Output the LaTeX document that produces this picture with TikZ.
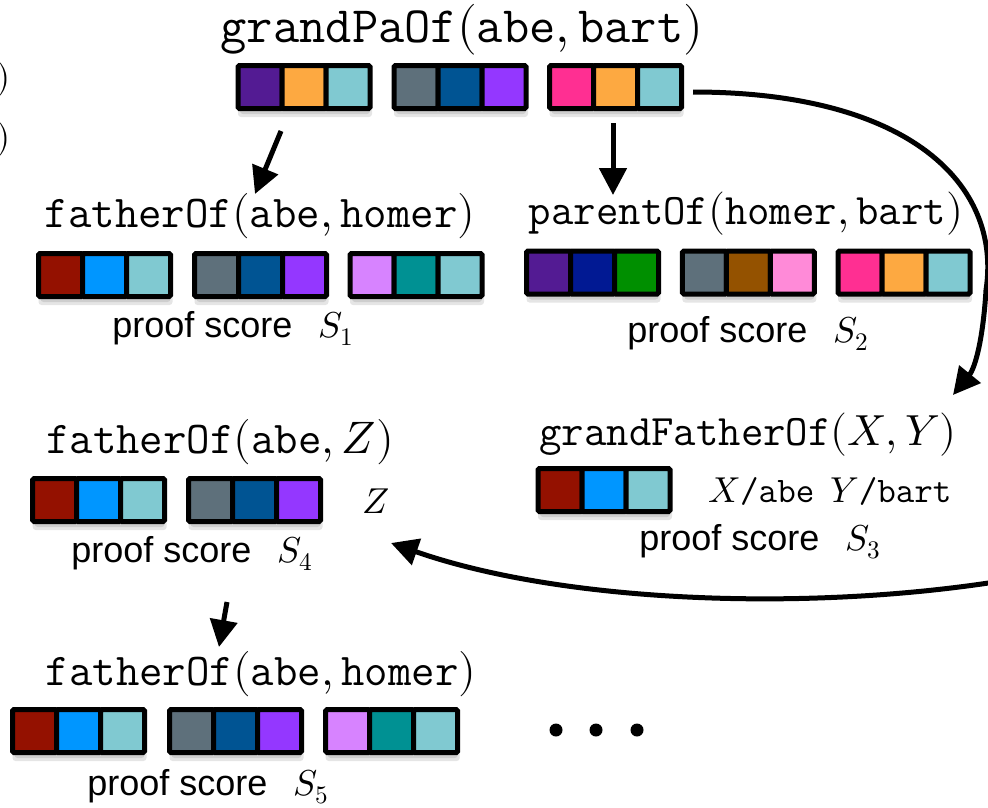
\documentclass[tikz,border=0pt]{standalone}
\usepackage{fontspec}
\usepackage{unicode-math}
\setsansfont{Liberation Sans}
\usetikzlibrary{arrows.meta}

% embedding colours
\definecolor{eggplant}{HTML}{531B93}
\definecolor{tangerine}{HTML}{FDA941}
\definecolor{ice}{HTML}{80C9D1}
\definecolor{steel}{HTML}{5E707B}
\definecolor{ocean}{HTML}{005493}
\definecolor{grape}{HTML}{9437FF}
\definecolor{strawberry}{HTML}{FF2F92}
\definecolor{cayenne}{HTML}{941100}
\definecolor{aqua}{HTML}{0096FF}
\definecolor{lavender}{HTML}{D783FF}
\definecolor{tealc}{HTML}{009193}
\definecolor{midnight}{HTML}{011993}
\definecolor{clover}{HTML}{008F00}
\definecolor{mocha}{HTML}{945200}
\definecolor{carnation}{HTML}{FF8AD8}

\newcommand{\atom}[2]{$\texttt{#1}(#2)$}
\newcommand{\tsym}[1]{\texttt{#1}}

% one embedding: three coloured cells in a black frame, with a soft shadow
\newcommand{\embrow}[6]{%
  \fill[black, opacity=0.10, rounded corners=3] (#2-66,#3-20) rectangle (#2+68,#3+30);
  \fill[black, opacity=0.10, rounded corners=3] (#2-64,#3-20) rectangle (#2+66,#3+27);
  \node[cell, fill=#4] (#1-1) at (#2-44,#3) {};
  \node[cell, fill=#5] (#1-2) at (#2,#3) {};
  \node[cell, fill=#6] (#1-3) at (#2+44,#3) {};
}

\begin{document}
\begin{tikzpicture}[x=1pt, y=-1pt,
  cell/.style={draw=black, line width=5, minimum width=44, minimum height=43,
    inner sep=0, outer sep=0, rounded corners=1.5},
  title/.style={anchor=base, inner sep=0, font=\fontsize{51}{56}\selectfont},
  atomlabel/.style={anchor=base, inner sep=0, font=\fontsize{45.5}{50}\selectfont},
  atomsmall/.style={anchor=base, inner sep=0, font=\fontsize{43.5}{48}\selectfont},
  score/.style={anchor=base, inner sep=0, font=\fontsize{36}{40}\selectfont},
  subst/.style={anchor=base, inner sep=0, font=\fontsize{36}{40}\selectfont},
  arr/.style={line width=5, -{Triangle[length=27, width=27]}},
  dot/.style={circle, fill=black, inner sep=0, minimum size=13},
  cutoff/.style={anchor=east, inner sep=0, font=\fontsize{36}{38}\selectfont}]

\useasboundingbox (0,0) rectangle (988,807);

% closing parentheses of text running in from the left
\node[cutoff] (cutA) at (11,79) {$)$};
\node[cutoff] (cutB) at (11,139) {$)$};

% goal
\node[title] (goal) at (462,42) {\atom{grandPaOf}{\tsym{abe},\tsym{bart}}};
\embrow{gA}{304}{87}{eggplant}{tangerine}{ice}
\embrow{gB}{460}{87}{steel}{ocean}{grape}
\embrow{gC}{615.5}{87}{strawberry}{tangerine}{ice}

% first unification: fatherOf(abe, homer)
\node[atomlabel] (f1) at (260,227) {\atom{fatherOf}{\tsym{abe},\tsym{homer}}};
\embrow{fA}{104.5}{275}{cayenne}{aqua}{ice}
\embrow{fB}{260.5}{275}{steel}{ocean}{grape}
\embrow{fC}{416}{275}{lavender}{tealc}{ice}
\node[score] (s1) at (233,337) {\sffamily proof score\hspace{26pt}$S_1$};

% second unification: parentOf(homer, bart)
\node[atomsmall] (p1) at (746,224) {\atom{parentOf}{\tsym{homer},\tsym{bart}}};
\embrow{pA}{592.5}{272.5}{eggplant}{midnight}{clover}
\embrow{pB}{748.3}{272.5}{steel}{mocha}{carnation}
\embrow{pC}{904}{272.5}{strawberry}{tangerine}{ice}
\node[score] (s2) at (748,342) {\sffamily proof score\hspace{26pt}$S_2$};

% rule head grandFatherOf(X, Y)
\node[atomsmall] (r1) at (748,445) {\atom{grandFatherOf}{X,Y}};
\embrow{rA}{604}{490}{cayenne}{aqua}{ice}
\node[subst] (sub) at (830,502) {$X$\tsym{/abe}\hspace{16pt}$Y$\tsym{/bart}};
\node[score] (s3) at (760,550) {\sffamily proof score\hspace{26pt}$S_3$};

% rule body fatherOf(abe, Z)
\node[atomlabel] (f2) at (220,453) {\atom{fatherOf}{\tsym{abe},Z}};
\embrow{zA}{98.7}{500}{cayenne}{aqua}{ice}
\embrow{zB}{254.5}{500}{steel}{ocean}{grape}
\node[subst] (zv) at (376,513) {$Z$};
\node[score] (s4) at (192,562) {\sffamily proof score\hspace{26pt}$S_4$};

% next step fatherOf(abe, homer)
\node[atomlabel] (f3) at (261,685) {\atom{fatherOf}{\tsym{abe},\tsym{homer}}};
\embrow{hA}{78.5}{731}{cayenne}{aqua}{ice}
\embrow{hB}{235.5}{731}{steel}{ocean}{grape}
\embrow{hC}{391.7}{731}{lavender}{tealc}{ice}
\node[score] (s5) at (208,795) {\sffamily proof score\hspace{26pt}$S_5$};

% continuation dots
\node[dot] (d1) at (556,730) {};
\node[dot] (d2) at (596,730) {};
\node[dot] (d3) at (637,730) {};

% arrow end points
\coordinate (a1s) at (281,131);
\coordinate (a1e) at (255,194);
\coordinate (a2s) at (613,123);
\coordinate (a2e) at (613,195);
\coordinate (a3s) at (693,92);
\coordinate (a3m) at (986,290);
\coordinate (a3e) at (953,395);
\coordinate (a4s) at (995,582);
\coordinate (a4e) at (391,543);
\coordinate (a5s) at (227,602);
\coordinate (a5e) at (219,647);

\draw[arr] (a1s) -- (a1e);
\draw[arr] (a2s) -- (a2e);
\draw[arr] (a3s) .. controls (910,92) and (1002,185) .. (a3m)
               .. controls (983,340) and (975,368) .. (a3e);
\draw[arr] (a4s) .. controls (800,612) and (560,602) .. (a4e);
\draw[arr] (a5s) -- (a5e);

\end{tikzpicture}
\end{document}
